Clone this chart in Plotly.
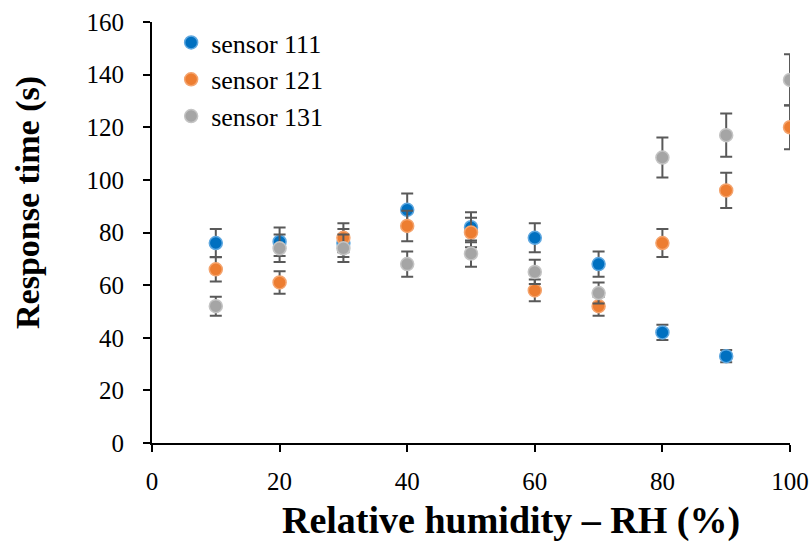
import plotly.graph_objects as go

rh = [10, 20, 30, 40, 50, 60, 70, 80, 90, 100]

s111 = [76, 76.5, 76, 88.6, 82, 78, 68, 42, 33]
s111_err = [5.3, 5.4, 5.3, 6.2, 5.7, 5.5, 4.8, 2.9, 2.3]

s121 = [66, 61, 78, 82.5, 80, 58, 52, 76, 96, 120]
s121_err = [4.6, 4.3, 5.5, 5.8, 5.6, 4.1, 3.6, 5.3, 6.7, 8.4]

s131 = [52, 74, 74, 68, 72, 65, 57, 108.5, 117, 138]
s131_err = [3.6, 5.2, 5.2, 4.8, 5.0, 4.6, 4.0, 7.6, 8.2, 9.7]

x_title = "Relative humidity – RH (%)"
y_title = "Response time (s)"

series = [
    ("sensor 111", rh[:len(s111)], s111, s111_err, "#0070C0", "#5FA8E0"),
    ("sensor 121", rh, s121, s121_err, "#ED7D31", "#F4A46E"),
    ("sensor 131", rh, s131, s131_err, "#A5A5A5", "#C4C4C4"),
]

fig = go.Figure()
for name, x, y, err, col, edge in series:
    fig.add_trace(go.Scatter(
        x=x, y=y, mode="markers", name=name, legendgroup=name,
        marker=dict(size=13, color=col, line=dict(color=edge, width=1.5)),
        error_y=dict(type="data", array=err, visible=True, color="#595959",
                     thickness=2, width=6),
    ))

font = "Liberation Serif, DejaVu Serif, serif"
fig.update_layout(
    width=812, height=546,
    margin=dict(l=152, r=22, t=22, b=103),
    paper_bgcolor="white", plot_bgcolor="white",
    font=dict(family=font, color="black", size=25),
    showlegend=True,
    legend=dict(x=0.03, y=1.007, xanchor="left", yanchor="top",
                font=dict(size=26, family=font), tracegroupgap=0,
                bgcolor="rgba(0,0,0,0)", itemwidth=30),
    xaxis=dict(range=[0, 100], tickvals=[0, 20, 40, 60, 80, 100],
               showgrid=False, zeroline=False, showline=True, automargin=False,
               linecolor="black", linewidth=2, ticks="outside",
               ticklen=7, tickwidth=1.5, tickcolor="black",
               ticklabelstandoff=8,
               tickfont=dict(size=25, family=font)),
    yaxis=dict(range=[0, 160], tickvals=[0, 20, 40, 60, 80, 100, 120, 140, 160],
               showgrid=False, zeroline=False, showline=True, automargin=False,
               linecolor="black", linewidth=2, ticks="outside",
               ticklen=7, tickwidth=1.5, tickcolor="black",
               ticklabelstandoff=14,
               tickfont=dict(size=25, family=font)),
    annotations=[
        dict(text="<b>" + x_title + "</b>", xref="paper", yref="paper",
             x=(511 - 152) / 638, y=-(520 - 443) / 421, xanchor="center",
             yanchor="middle", showarrow=False,
             font=dict(size=38, family=font, color="black")),
        dict(text="<b>" + y_title + "</b>", xref="paper", yref="paper",
             x=-(152 - 28) / 638, y=(443 - 203) / 421, xanchor="center",
             yanchor="middle", showarrow=False, textangle=-90,
             font=dict(size=34, family=font, color="black")),
    ],
)

fig.write_html("out.html")
